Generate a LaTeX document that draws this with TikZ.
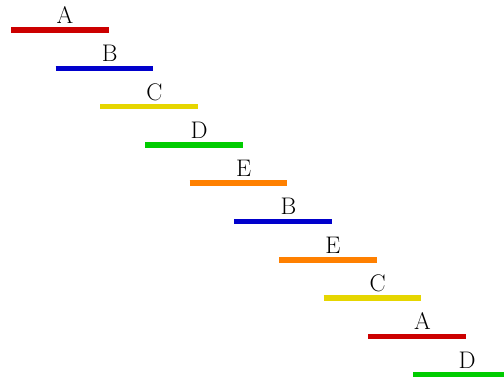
\documentclass[tikz,border=0pt]{standalone}
\usepackage{tikz}
\definecolor{barred}{RGB}{204,0,0}
\definecolor{barblue}{RGB}{0,0,204}
\definecolor{baryellow}{RGB}{230,214,0}
\definecolor{bargreen}{RGB}{0,204,0}
\definecolor{barorange}{RGB}{255,128,0}
\tikzset{
  bar/.style={line width=5.5pt},
  lbl/.style={anchor=base, inner sep=0pt, font=\fontsize{24}{28}\selectfont}
}
\begin{document}
\begin{tikzpicture}[x=1pt,y=-1pt]
\useasboundingbox (0,0) rectangle (504,379);
\clip (0,0) rectangle (504,379);
\foreach \i/\c/\t in {0/barred/A,1/barblue/B,2/baryellow/C,3/bargreen/D,4/barorange/E,5/barblue/B,6/barorange/E,7/baryellow/C,8/barred/A,9/bargreen/D}{
  \pgfmathsetmacro{\xs}{11+44.67*\i}
  \pgfmathsetmacro{\xe}{\xs+97.5}
  \pgfmathsetmacro{\yy}{30+38.3*\i}
  \coordinate (s\i) at (\xs,\yy);
  \coordinate (e\i) at (\xe,\yy);
  \draw[bar,\c] (s\i) -- (e\i);
  \node[lbl] (l\i) at ([xshift=54pt,yshift=6.5pt]s\i) {\t};
}
\end{tikzpicture}
\end{document}
